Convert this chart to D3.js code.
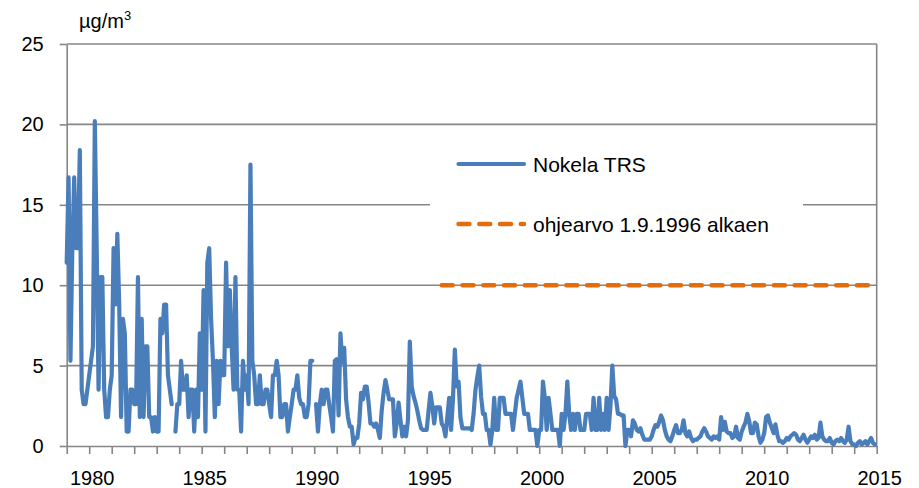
<!DOCTYPE html>
<html>
<head>
<meta charset="utf-8">
<script src="https://cdn.jsdelivr.net/npm/d3@7"></script>
<style>
  body { margin: 0; background: #fff; }
  text { font-family: "Liberation Sans", Arial, sans-serif; fill: #000; }
</style>
</head>
<body>
<svg id="chart" width="919" height="488"></svg>
<script>
// Monthly TRS concentrations at Nokela (µg/m³), January → December, six years per block.
// null = no measurement for that month.
const trs1979to1984 = [
  11.4, 16.7, 5.3, 12.3, 16.7, 12.3, 12.3, 18.4, 3.5, 2.6, 2.6, 3.5,
  4.4, 5.3, 6.2, 20.2, 12.3, 3.5, 10.5, 10.5, 3.5, 1.8, 1.8, 3.5,
  4.4, 12.3, 8.8, 13.2, 8.8, 1.8, 7.9, 7.0, 0.9, 0.9, 3.5, 3.5,
  2.6, 2.6, 10.5, 1.8, 7.9, 1.8, 6.2, 6.2, 1.8, 1.8, 0.9, 1.8,
  0.9, 0.9, 7.9, 7.0, 8.8, 8.8, 4.4, 3.5, 2.6, null, 0.9, 2.6,
  2.6, 5.3, 3.5, 3.5, 4.4, 1.8, 3.5, 3.5, 0.9, 3.5, 1.8, 7.0
];
const trs1985to1990 = [
  3.5, 9.7, 0.9, 11.4, 12.3, 7.9, 5.3, 1.8, 5.3, 2.6, 5.3, 4.4,
  4.4, 11.4, 6.2, 9.7, 6.2, 3.5, 10.5, 3.5, 3.5, 0.9, 5.3, 3.5,
  4.4, 2.6, 17.5, 5.3, 4.4, 2.6, 2.6, 4.4, 2.6, 2.6, 3.5, 3.5,
  2.6, 1.8, 4.4, 4.4, 5.3, 4.4, 1.8, 1.8, 2.6, 2.6, 0.9, 1.8,
  2.6, 3.5, 3.5, 4.4, 3.0, 2.6, 2.6, 1.8, 1.8, 2.6, 5.3, 5.3,
  null, 2.6, 0.9, 2.6, 3.5, 2.6, 3.5, 3.5, 2.6, 1.8, 0.9, 5.3
];
const trs1991to1996 = [
  5.4, 1.9, 7.0, 5.2, 6.1, 2.9, 1.8, 1.2, 1.2, 0.1, 0.5, 0.5,
  1.4, 3.3, 2.9, 3.7, 3.7, 2.7, 1.4, 1.4, 1.2, 1.4, 1.0, 0.5,
  2.2, 3.3, 4.1, 3.5, 2.9, 2.9, 2.9, 0.6, 1.4, 2.7, 1.6, 0.6,
  1.2, 0.6, 1.6, 6.5, 3.7, 3.1, 2.7, 2.2, 1.6, 1.1, 1.0, 1.0,
  1.0, 2.2, 3.3, 2.5, 1.4, 2.4, 2.4, 2.4, 1.4, 1.2, 0.6, 1.8,
  3.0, 1.0, 2.9, 6.0, 3.7, 4.0, 1.8, 1.1, 1.1, 1.1, 1.1, 1.1
];
const trs1997to2002 = [
  1.0, 2.0, 3.5, 4.3, 5.0, 3.1, 2.0, 2.0, 1.0, 1.0, 0.1, 1.0,
  3.0, 1.0, 1.0, 3.0, 3.0, 3.0, 2.0, 2.0, 2.0, 2.0, 1.0, 2.0,
  3.0, 3.5, 4.0, 3.0, 2.0, 2.0, 2.0, 1.0, 1.0, 1.0, 1.0, 0.0,
  1.0, 1.0, 4.0, 3.0, 1.0, 3.0, 2.0, 1.0, 1.0, 1.0, 1.0, 0.0,
  2.0, 1.0, 2.0, 4.0, 2.0, 1.0, 2.0, 1.0, 2.0, 2.0, 1.0, 1.0,
  1.0, 2.0, 2.0, 2.0, 1.0, 3.0, 1.0, 1.0, 3.0, 1.0, 2.0, 1.0
];
const trs2003to2008 = [
  3.0, 1.0, 2.5, 5.0, 3.1, 2.9, 2.0, 2.0, 1.9, 1.9, 0.0, 1.0,
  1.0, 0.6, 1.6, 1.4, 1.0, 0.9, 1.1, 0.7, 0.4, 0.4, 0.4, 0.4,
  0.6, 1.0, 1.3, 1.2, 1.5, 1.9, 1.6, 1.0, 0.6, 0.4, 0.3, 0.6,
  1.0, 1.3, 0.8, 0.8, 1.0, 1.6, 0.8, 0.6, 0.9, 0.5, 0.3, 0.4,
  0.4, 0.5, 0.6, 0.9, 1.1, 0.9, 0.6, 0.5, 0.4, 0.6, 0.5, 0.6,
  0.4, 1.8, 1.0, 1.5, 0.9, 0.8, 0.8, 0.5, 0.6, 1.2, 0.5, 0.4
];
const trs2009to2014 = [
  0.9, 1.2, 1.45, 2.0, 1.55, 0.8, 0.8, 1.45, 1.35, 0.6, 0.2, 0.4,
  0.8, 1.8, 1.9, 1.45, 1.15, 0.8, 1.35, 0.7, 0.3, 0.3, 0.2, 0.3,
  0.5, 0.4, 0.6, 0.7, 0.8, 0.7, 0.4, 0.3, 0.5, 0.7, 0.4, 0.2,
  0.4, 0.6, 0.5, 0.7, 0.4, 0.5, 1.45, 0.6, 0.4, 0.3, 0.3, 0.5,
  0.2, 0.1, 0.3, 0.4, 0.3, 0.5, 0.3, 0.2, 0.4, 1.2, 0.3, 0.1,
  0.1, 0.0, 0.2, 0.3, 0.1, 0.2, 0.3, 0.1, 0.3, 0.5, 0.2, 0.1
];

// Guide value (ohjearvo) and the period it is drawn over, as decimal years.
const guideLevel = 10;
const guidePeriod = [1995 + 8 / 12, 2014 + 9 / 12];

const firstYear = 1979;
const lastYear = 2015;
const yTickValues = [0, 5, 10, 15, 20, 25];
const xLabelYears = [1980, 1985, 1990, 1995, 2000, 2005, 2010, 2015];
const seriesNames = ["Nokela TRS", "ohjearvo 1.9.1996 alkaen"];
const unitText = "µg/m";
const unitExponent = "3";

// ---- layout ----
const plot = { left: 66.7, right: 876.7, top: 44, bottom: 446 };
const gridColor = "#868686";
const trsColor = "#4A7EBB";
const guideColor = "#E46C0A";

const svg = d3.select("#chart");
svg.append("rect").attr("width", 919).attr("height", 488).attr("fill", "#fff");

const x = d3.scaleLinear().domain([firstYear, lastYear]).range([plot.left, plot.right]);
const y = d3.scaleLinear().domain([0, 25]).range([plot.bottom, plot.top]);

const monthly = [].concat(trs1979to1984, trs1985to1990, trs1991to1996,
                          trs1997to2002, trs2003to2008, trs2009to2014);
const points = monthly.map((v, i) => ({ t: firstYear + i / 12, v }));

// horizontal gridlines
svg.append("g")
  .selectAll("line")
  .data(yTickValues.filter(d => d > 0))
  .join("line")
  .attr("x1", plot.left).attr("x2", plot.right)
  .attr("y1", d => y(d)).attr("y2", d => y(d))
  .attr("stroke", gridColor).attr("stroke-width", 1.6);

// right border of the plot area
svg.append("line")
  .attr("x1", plot.right).attr("x2", plot.right)
  .attr("y1", plot.top).attr("y2", plot.bottom)
  .attr("stroke", gridColor).attr("stroke-width", 1.6);

// y axis
const yAxis = svg.append("g")
  .attr("transform", `translate(${plot.left},0)`)
  .call(d3.axisLeft(y).tickValues(yTickValues).tickSize(7).tickSizeOuter(0).tickPadding(16));
yAxis.select(".domain").attr("stroke", gridColor).attr("stroke-width", 1.6);
yAxis.selectAll(".tick line").attr("stroke", gridColor).attr("stroke-width", 1.6);
yAxis.selectAll(".tick text")
  .attr("font-family", "Liberation Sans, Arial, sans-serif")
  .attr("font-size", 20).attr("fill", "#000");

// x axis: a tick at every year boundary, labels every fifth year
const xAxis = svg.append("g")
  .attr("transform", `translate(0,${plot.bottom})`)
  .call(d3.axisBottom(x)
    .tickValues(d3.range(firstYear, lastYear + 1))
    .tickSize(8).tickSizeOuter(0).tickPadding(17)
    .tickFormat(d => xLabelYears.includes(d) ? String(d) : ""));
xAxis.select(".domain").attr("stroke", gridColor).attr("stroke-width", 1.6);
xAxis.selectAll(".tick line").attr("stroke", gridColor).attr("stroke-width", 1.6);
xAxis.selectAll(".tick text")
  .attr("font-family", "Liberation Sans, Arial, sans-serif")
  .attr("font-size", 20).attr("fill", "#000").attr("dx", 2.5);

// unit label
const unit = svg.append("text").attr("x", 79).attr("y", 28).attr("font-size", 20).text(unitText);
unit.append("tspan").attr("font-size", 13).attr("dy", -8).text(unitExponent);

// TRS series
const line = d3.line()
  .defined(d => d.v !== null)
  .x(d => x(d.t))
  .y(d => y(d.v));

svg.append("path")
  .datum(points)
  .attr("d", line)
  .attr("fill", "none")
  .attr("stroke", trsColor)
  .attr("stroke-width", 4.2)
  .attr("stroke-linejoin", "round")
  .attr("stroke-linecap", "round");

// guide value line
const dash = "11 9.76";
svg.append("path")
  .datum(guidePeriod.map(t => ({ t, v: guideLevel })))
  .attr("d", line)
  .attr("fill", "none")
  .attr("stroke", guideColor)
  .attr("stroke-width", 4.5)
  .attr("stroke-dasharray", dash)
  .attr("stroke-linecap", "round");

// legend
const legend = svg.append("g");
legend.append("rect")
  .attr("x", 430).attr("y", 140).attr("width", 373).attr("height", 125)
  .attr("fill", "#fff");
const legendItems = [
  { name: seriesNames[0], color: trsColor, y: 164, dashed: false },
  { name: seriesNames[1], color: guideColor, y: 224, dashed: true }
];
legendItems.forEach(item => {
  legend.append("line")
    .attr("x1", 458.5).attr("x2", 524)
    .attr("y1", item.y).attr("y2", item.y)
    .attr("stroke", item.color)
    .attr("stroke-width", item.dashed ? 4.5 : 4.2)
    .attr("stroke-linecap", "round")
    .attr("stroke-dasharray", item.dashed ? dash : null);
  legend.append("text")
    .attr("x", 533).attr("y", item.y + 7.5)
    .attr("font-size", 21)
    .text(item.name);
});
</script>
</body>
</html>
